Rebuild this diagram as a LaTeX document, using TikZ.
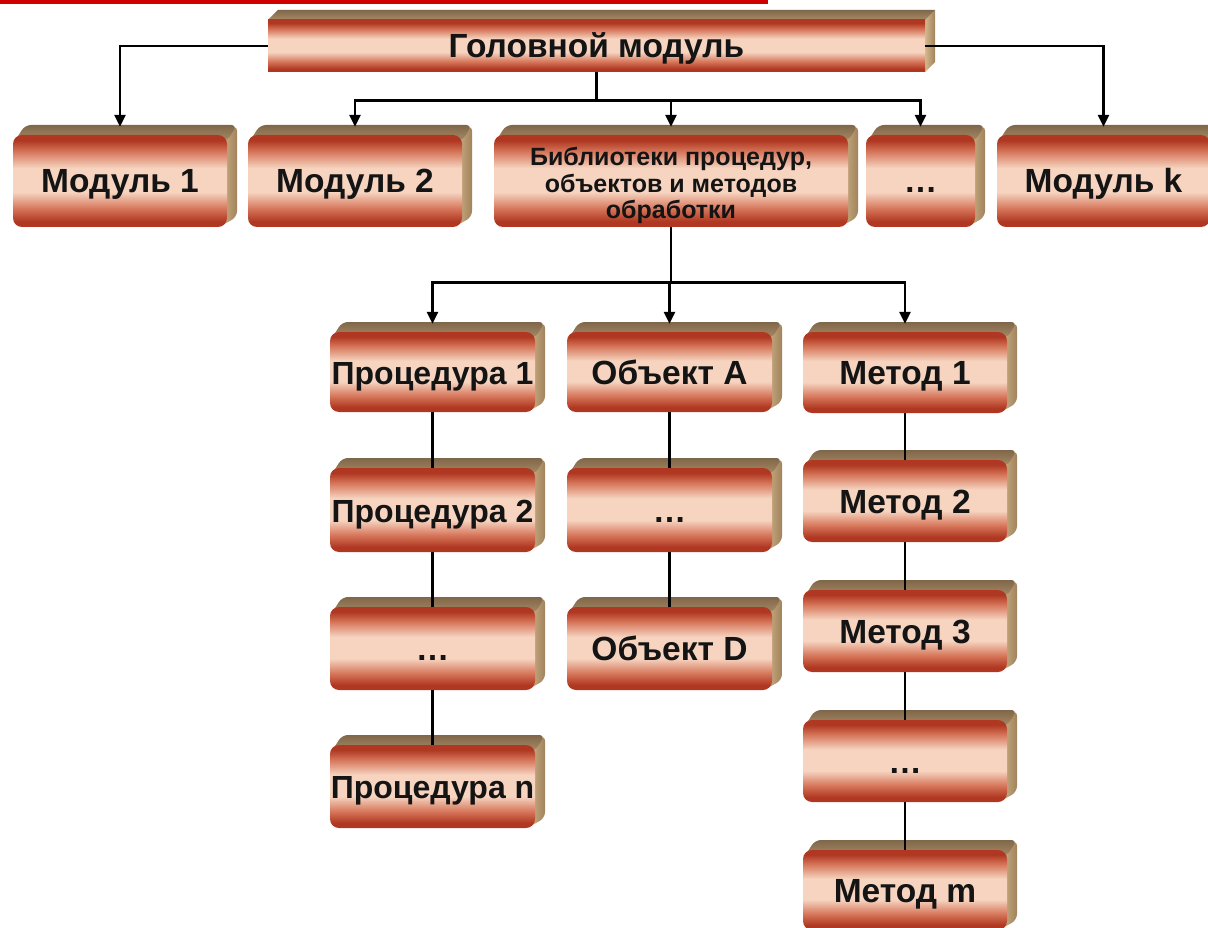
\documentclass[tikz,border=0pt]{standalone}
\usepackage{fontspec}
\setmainfont{Liberation Sans}
\usetikzlibrary{arrows.meta,calc}
\definecolor{bred}{RGB}{176,56,34}
\definecolor{mred}{RGB}{214,118,90}
\definecolor{peach}{RGB}{246,212,192}
\definecolor{brownD}{RGB}{128,103,74}
\definecolor{brownL}{RGB}{168,138,102}
\definecolor{tanL}{RGB}{212,184,140}
\definecolor{tanD}{RGB}{160,130,92}
\definecolor{topred}{RGB}{208,0,0}
\pgfdeclareverticalshading{boxshade}{100bp}{%
  color(0bp)=(bred); color(25bp)=(bred); color(28bp)=(bred); color(35bp)=(mred); color(44bp)=(peach);
  color(57bp)=(peach); color(66bp)=(mred); color(72bp)=(bred); color(100bp)=(bred)}
\tikzset{
  front/.style={shading=boxshade, rounded corners=9pt, inner sep=0pt, align=center,
    text=black!92, font=\fontsize{33.5}{38}\selectfont\bfseries},
  one/.style={text height=24pt, text depth=0pt},
  proc/.style={one, font=\fontsize{32}{38}\selectfont\bfseries},
  libtext/.style={font=\fontsize{25}{26.5}\selectfont\bfseries},
  sideface/.style={left color=tanL, right color=tanD},
  topface/.style={top color=brownD, bottom color=brownL},
  conn/.style={draw=black, line width=2.8pt},
  arr/.style={-{Triangle[length=12pt,width=11pt]}}
}
\newcommand\bx[7]{%
  \shade[sideface,rounded corners=6pt] (#4-8,#3) -- (#4+10,#3-10) -- (#4+10,#5-10) -- (#4-8,#5) -- cycle;
  \shade[topface,rounded corners=6pt] (#2+2,#3+6) -- (#2+12,#3-10) -- (#4+10,#3-10) -- (#4,#3+6) -- cycle;
  \node[front,#7,minimum width=#4-#2,minimum height=#5-#3] (#1) at ({(#2+#4)/2},{(#3+#5)/2}) {#6};
}
\begin{document}
\begin{tikzpicture}[x=1pt,y=-1pt]
\useasboundingbox (0,0) rectangle (1208,928);
\fill[white] (0,0) rectangle (1208,928);
\fill[topred] (0,0) rectangle (768,4);
% head box (square edges)
\shade[sideface] (925,20) -- (935,10) -- (935,62) -- (925,72) -- cycle;
\shade[topface] (268,20) -- (278,10) -- (935,10) -- (925,20) -- cycle;
\node[front,one,rounded corners=0pt,minimum width=657,minimum height=52] (head) at (596.5,46) {Головной модуль};
% row 1
\bx{m1}{13}{135}{227}{227}{Модуль 1}{one}
\bx{m2}{248}{135}{462}{227}{Модуль 2}{one}
\bx{lib}{494}{135}{848}{227}{\rule{0pt}{28pt}Библиотеки процедур,\\объектов и методов\\обработки}{libtext}
\bx{dt}{866}{135}{975}{227}{…}{one}
\bx{mk}{997}{135}{1210}{227}{Модуль k}{one}
% procedures
\bx{p1}{330}{332}{535}{412}{Процедура 1}{proc}
\bx{p2}{330}{468}{535}{552}{Процедура 2}{proc}
\bx{p3}{330}{607}{535}{690}{…}{one}
\bx{pn}{330}{745}{535}{828}{Процедура n}{proc}
% objects
\bx{oa}{567}{332}{772}{412}{Объект A}{one}
\bx{o2}{567}{468}{772}{552}{…}{one}
\bx{od}{567}{607}{772}{690}{Объект D}{one}
% methods
\bx{t1}{803}{332}{1007}{413}{Метод 1}{one}
\bx{t2}{803}{460}{1007}{542}{Метод 2}{one}
\bx{t3}{803}{590}{1007}{672}{Метод 3}{one}
\bx{t4}{803}{720}{1007}{802}{…}{one}
\bx{tm}{803}{850}{1007}{930}{Метод m}{one}
% connectors
\draw[conn,arr] (head.west) -| ([yshift=8pt]m1.north);
\draw[conn,arr] (head.east) -| ([yshift=8pt]mk.north);
\coordinate (bar1) at ([yshift=-28pt]head.south);
\draw[conn] (head.south) -- (bar1);
\draw[conn,arr] (bar1) -| ([yshift=8pt]m2.north);
\draw[conn,arr] (bar1) -| ([yshift=8pt]lib.north);
\draw[conn,arr] (bar1) -| ([yshift=8pt]dt.north);
\coordinate (bar2) at ([yshift=-55pt]lib.south);
\draw[conn] (lib.south) -- (bar2);
\draw[conn,arr] (bar2) -| ([yshift=8pt]p1.north);
\draw[conn,arr] (bar2) -| ([yshift=8pt]oa.north);
\draw[conn,arr] (bar2) -| ([yshift=8pt]t1.north);
\draw[conn] (p1.south) -- (p2.north);
\draw[conn] (p2.south) -- (p3.north);
\draw[conn] (p3.south) -- (pn.north);
\draw[conn] (oa.south) -- (o2.north);
\draw[conn] (o2.south) -- (od.north);
\draw[conn] (t1.south) -- (t2.north);
\draw[conn] (t2.south) -- (t3.north);
\draw[conn] (t3.south) -- (t4.north);
\draw[conn] (t4.south) -- (tm.north);
\end{tikzpicture}
\end{document}
